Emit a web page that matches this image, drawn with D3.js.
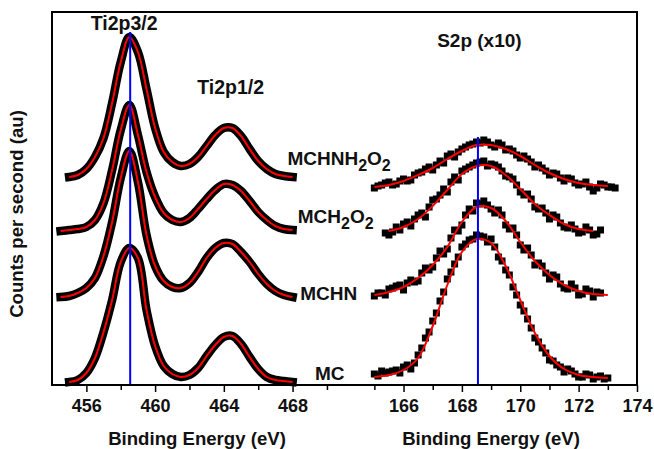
<!DOCTYPE html>
<html>
<head>
<meta charset="utf-8">
<script src="https://cdnjs.cloudflare.com/ajax/libs/d3/7.8.5/d3.min.js"></script>
<style>
  body { margin: 0; background: #ffffff; }
  text { font-family: "Liberation Sans", Arial, sans-serif; font-weight: bold; fill: #111111; }
</style>
</head>
<body>
<script>
// XPS spectra, Ti2p (left) and S2p x10 (right), four samples stacked

// ---- data ----
var sampleNames = ["MCHNH2O2", "MCH2O2", "MCHN", "MC"];

// Ti2p binding energy grid (eV)
var tiEnergy = [454.5, 455, 455.5, 456, 456.5, 457, 457.5, 458, 458.5, 459, 459.5, 460,
                460.5, 461, 461.5, 462, 462.5, 463, 463.5, 464, 464.5, 465, 465.5, 466,
                466.5, 467, 467.5, 468];
// counts (au, offset stacked)
var tiMCHNH2O2 = [null, 208, 210, 216, 228, 247, 282, 323, 348, 333, 296, 257, 233, 223,
                  219, 221, 228, 239, 250, 257, 257, 249, 236, 224, 216, 211, 209, 208];
var tiMCH2O2   = [154, 155, 156, 158, 165, 182, 215, 255, 280, 250, 213, 188, 172, 165,
                  163, 167, 176, 186, 195, 201, 200, 194, 184, 173, 165, 159, 156, 155];
var tiMCHN     = [88, 89, 92, 97, 107, 129, 163, 207, 234, 203, 150, 119, 104, 98,
                  97, 102, 113, 127, 137, 142, 141, 133, 123, 111, 101, 94, 90, 88];
var tiMC       = [null, 3, 5, 12, 27, 53, 85, 123, 137, 127, 75, 39, 19, 11,
                  8, 10, 17, 29, 40, 48, 49, 41, 28, 16, 8, 5, 4, 3];

// S2p measured points (eV)
var sEnergy = [165, 165.125, 165.25, 165.375, 165.5, 165.625, 165.75, 165.875,
               166, 166.125, 166.25, 166.375, 166.5, 166.625, 166.75, 166.875,
               167, 167.125, 167.25, 167.375, 167.5, 167.625, 167.75, 167.875,
               168, 168.125, 168.25, 168.375, 168.5, 168.625, 168.75, 168.875,
               169, 169.125, 169.25, 169.375, 169.5, 169.625, 169.75, 169.875,
               170, 170.125, 170.25, 170.375, 170.5, 170.625, 170.75, 170.875,
               171, 171.125, 171.25, 171.375, 171.5, 171.625, 171.75, 171.875,
               172, 172.125, 172.25, 172.375, 172.5, 172.625, 172.75, 172.875,
               173, 173.125, 173.25];
var sMCHNH2O2 = [197, 199, 200, 202, 203, 200, 201, 204,
                 206, 204, 205, 210, 212, 213, 216, 218,
                 215, 220, 224, 222, 229, 231, 228, 233,
                 236, 238, 240, 241, 243, 242, 245, 243,
                 240, 238, 242, 240, 235, 236, 234, 230,
                 227, 229, 226, 223, 218, 220, 217, 214,
                 210, 212, 211, 207, 204, 207, 206, 202,
                 200, 201, 203, 198, 194, 197, 201, 200,
                 198, 198, 197];
var sMCH2O2   = [null, null, null, 152, 150, 153, 158, 155,
                 161, 163, 159, 166, 170, 172, 168, 178,
                 185, 186, 190, 196, 193, 203, 208, 205,
                 214, 216, 218, 220, 222, 223, 224, 219,
                 221, 220, 218, 214, 209, 208, 206, 200,
                 193, 190, 191, 186, 178, 176, 177, 172,
                 166, 170, 168, 162, 158, 157, 160, 156,
                 152, 153, 158, 155, 150, 151, 155, null,
                 null, null, null];
var sMCHN     = [89, 92, 92, 90, 96, 97, 99, 100,
                 95, 102, 105, 103, 104, 112, 117, 115,
                 118, 127, 134, 131, 136, 147, 155, 154,
                 160, 170, 176, 174, 182, 181, 184, 180,
                 176, 172, 175, 170, 160, 156, 157, 150,
                 140, 135, 137, 130, 120, 122, 119, 112,
                 106, 110, 108, 101, 97, 96, 101, 97,
                 90, 91, 96, 94, 88, 93, 92, null,
                 null, null, null];
var sMC       = [11, 9, 14, 12, 13, 14, 15, 12,
                 18, 20, 16, 22, 30, 37, 47, 53,
                 64, 72, 84, 93, 106, 113, 121, 128,
                 138, 141, 145, 146, 150, 149, 148, 143,
                 146, 138, 128, 124, 115, 110, 98, 90,
                 80, 74, 66, 57, 47, 43, 37, 32,
                 25, 24, 20, 18, 13, 16, 14, 11,
                 8, 8, 11, 10, 6, 8, 9, 6,
                 7, null, null];

// S2p fitted curves
var sFitEnergy = [165, 165.5, 166, 166.5, 167, 167.5, 168, 168.5, 169, 169.5, 170, 170.5,
                  171, 171.5, 172, 172.5, 173];
var sFitMCHNH2O2 = [198, 200, 204, 210, 217, 226, 234, 240, 240, 236, 229, 220, 212, 206, 202, 200, 199];
var sFitMCH2O2   = [null, 154, 158, 166, 179, 195, 211, 219, 219, 210, 196, 181, 170, 161, 156, 154, null];
var sFitMCHN     = [90, 93, 98, 107, 120, 138, 163, 178, 177, 164, 143, 124, 110, 100, 94, 91, 90];
var sFitMC       = [8, 10, 15, 27, 59, 100, 133, 146, 142, 119, 85, 52, 29, 16, 10, 8, 7];

// peak reference lines (eV) and their top (counts)
var peakEnergy = [458.55, 168.55];
var peakTop = [353, 248];

// ticks
var tiMajor = [456, 460, 464, 468];
var tiMinor = [458, 462, 466, 470];
var sMajor = [166, 168, 170, 172, 174];
var sMinor = [165, 167, 169, 171, 173];

var tiSeries = [tiMCHNH2O2, tiMCH2O2, tiMCHN, tiMC];
var sSeries = [sMCHNH2O2, sMCH2O2, sMCHN, sMC];
var sFitSeries = [sFitMCHNH2O2, sFitMCH2O2, sFitMCHN, sFitMC];

// ---- layout ----
var frame = {left: 52, right: 637, top: 12, bottom: 385, split: 351};

var svg = d3.select("body")
    .append("svg")
    .attr("width", 654)
    .attr("height", 449);

var xTi = d3.scaleLinear().domain([454, 471.4]).range([frame.left, frame.split]);
var xS = d3.scaleLinear().domain([164.2, 174]).range([frame.split, frame.right]);
var y = d3.scaleLinear().domain([0, 373]).range([frame.bottom, frame.top]);

var tiLine = d3.line()
    .defined(function(d) { return d[1] != null; })
    .x(function(d) { return xTi(d[0]); })
    .y(function(d) { return y(d[1]); })
    .curve(d3.curveCatmullRom.alpha(0.5));

var sLine = d3.line()
    .defined(function(d) { return d[1] != null; })
    .x(function(d) { return xS(d[0]); })
    .y(function(d) { return y(d[1]); })
    .curve(d3.curveCatmullRom.alpha(0.5));

// Ti2p: dense markers form a thick black band, red fit on top
tiSeries.forEach(function(s) {
  var pts = tiEnergy.map(function(e, i) { return [e, s[i]]; });
  svg.append("path")
      .attr("d", tiLine(pts))
      .attr("fill", "none")
      .attr("stroke", "#000")
      .attr("stroke-width", 8.5)
      .attr("stroke-linejoin", "round")
      .attr("stroke-linecap", "square");
  svg.append("path")
      .attr("d", tiLine(pts))
      .attr("fill", "none")
      .attr("stroke", "#ff0000")
      .attr("stroke-width", 2);
});

// S2p: square markers + red fit
var msize = 7;
sSeries.forEach(function(s, k) {
  var pts = sEnergy.map(function(e, i) { return [e, s[i]]; })
      .filter(function(d) { return d[1] != null; });
  svg.append("g").selectAll("rect")
      .data(pts)
      .enter().append("rect")
      .attr("x", function(d) { return xS(d[0]) - msize / 2; })
      .attr("y", function(d) { return y(d[1]) - msize / 2; })
      .attr("width", msize)
      .attr("height", msize)
      .attr("fill", "#000");
  var fit = sFitEnergy.map(function(e, i) { return [e, sFitSeries[k][i]]; });
  svg.append("path")
      .attr("d", sLine(fit))
      .attr("fill", "none")
      .attr("stroke", "#ff0000")
      .attr("stroke-width", 2);
});

// blue peak markers
svg.append("line")
    .attr("x1", xTi(peakEnergy[0])).attr("x2", xTi(peakEnergy[0]))
    .attr("y1", y(peakTop[0])).attr("y2", y(0))
    .attr("stroke", "#0000ff").attr("stroke-width", 2);
svg.append("line")
    .attr("x1", xS(peakEnergy[1])).attr("x2", xS(peakEnergy[1]))
    .attr("y1", y(peakTop[1])).attr("y2", y(0))
    .attr("stroke", "#0000ff").attr("stroke-width", 2);

// axes
function styleAxis(g) {
  g.select(".domain").remove();
  g.selectAll("line").attr("stroke", "#000").attr("stroke-width", 1.5);
  g.selectAll("text")
      .attr("font-size", 18)
      .attr("font-family", "Liberation Sans, Arial, sans-serif")
      .attr("font-weight", "bold");
}

svg.append("g")
    .attr("transform", "translate(0," + frame.bottom + ")")
    .call(d3.axisBottom(xTi).tickValues(tiMajor).tickSize(7).tickPadding(7).tickFormat(d3.format("d")))
    .call(styleAxis);
svg.append("g")
    .attr("transform", "translate(0," + frame.bottom + ")")
    .call(d3.axisBottom(xTi).tickValues(tiMinor).tickSize(5).tickFormat(""))
    .call(styleAxis);
svg.append("g")
    .attr("transform", "translate(0," + frame.bottom + ")")
    .call(d3.axisBottom(xS).tickValues(sMajor).tickSize(7).tickPadding(7).tickFormat(d3.format("d")))
    .call(styleAxis);
svg.append("g")
    .attr("transform", "translate(0," + frame.bottom + ")")
    .call(d3.axisBottom(xS).tickValues(sMinor).tickSize(5).tickFormat(""))
    .call(styleAxis);

// frame
svg.append("rect")
    .attr("x", frame.left)
    .attr("y", frame.top)
    .attr("width", frame.right - frame.left)
    .attr("height", frame.bottom - frame.top)
    .attr("fill", "none")
    .attr("stroke", "#000")
    .attr("stroke-width", 2);

// axis titles
svg.append("text")
    .attr("x", 197).attr("y", 445)
    .attr("text-anchor", "middle")
    .attr("font-size", 18.6)
    .text("Binding Energy (eV)");
svg.append("text")
    .attr("x", 491).attr("y", 445)
    .attr("text-anchor", "middle")
    .attr("font-size", 18.6)
    .text("Binding Energy (eV)");
svg.append("text")
    .attr("transform", "translate(23,214) rotate(-90)")
    .attr("text-anchor", "middle")
    .attr("font-size", 18.6)
    .text("Counts per second (au)");

// peak names
svg.append("text")
    .attr("x", xTi(458.2)).attr("y", y(355))
    .attr("text-anchor", "middle").attr("font-size", 19.5)
    .text("Ti2p3/2");
svg.append("text")
    .attr("x", xTi(464.4)).attr("y", y(291))
    .attr("text-anchor", "middle").attr("font-size", 19.5)
    .text("Ti2p1/2");
svg.append("text")
    .attr("x", xS(168.6)).attr("y", y(338))
    .attr("text-anchor", "middle").attr("font-size", 19)
    .text("S2p (x10)");

// sample names, digits as subscripts
var labelAt = [[467.7, 220], [468.3, 162], [468.45, 85], [469.3, 5]];
sampleNames.forEach(function(name, k) {
  var t = svg.append("text")
      .attr("x", xTi(labelAt[k][0]))
      .attr("y", y(labelAt[k][1]))
      .attr("font-size", 19);
  var shift = 0;
  name.split(/(\d)/).filter(function(p) { return p.length; }).forEach(function(p) {
    var sub = /\d/.test(p);
    var target = sub ? 6 : 0;
    t.append("tspan")
        .attr("dy", target - shift)
        .attr("font-size", sub ? 16 : 19)
        .text(p);
    shift = target;
  });
});
</script>
</body>
</html>
